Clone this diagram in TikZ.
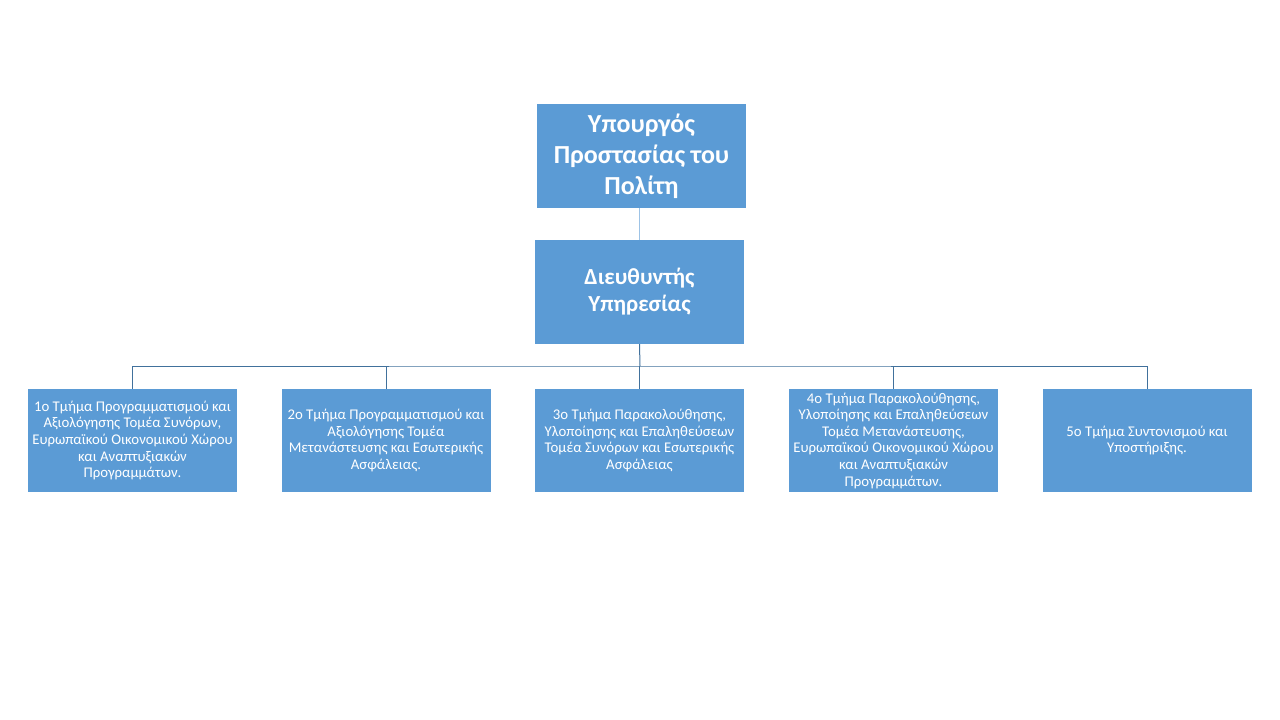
\documentclass[tikz,border=0pt]{standalone}
\usepackage{fontspec}
\setmainfont{Carlito}
\definecolor{boxblue}{HTML}{5B9BD5}
\definecolor{linedark}{HTML}{41719C}
\definecolor{linelight}{HTML}{9DC3E6}
\begin{document}
\begin{tikzpicture}[x=1pt,y=-1pt,
  box/.style={fill=boxblue,draw=none,text=white,align=center,inner sep=0pt,minimum width=209pt},
  topbox/.style={box,minimum height=104pt,font=\fontsize{26}{31}\selectfont\bfseries},
  midbox/.style={box,minimum height=104pt,font=\fontsize{23}{27}\selectfont\bfseries},
  unitbox/.style={box,minimum height=103pt,font=\fontsize{14.8}{16.6}\selectfont},
  conn/.style={draw=linedark,line width=1pt}]
\useasboundingbox (0,0) rectangle (1280,720);
\fill[white] (0,0) rectangle (1280,720);
\node[topbox] (min) at (641.5,156) {Υπουργός\\Προστασίας του\\Πολίτη};
\node[midbox] (dir) at (639.5,292) {Διευθυντής\\Υπηρεσίας};
\node[unitbox] (u1) at (132.5,440.5) {1ο Τμήμα Προγραμματισμού και\\Αξιολόγησης Τομέα Συνόρων,\\Ευρωπαϊκού Οικονομικού Χώρου\\και Αναπτυξιακών\\Προγραμμάτων.};
\node[unitbox] (u2) at (386,440.5) {2ο Τμήμα Προγραμματισμού και\\Αξιολόγησης Τομέα\\Μετανάστευσης και Εσωτερικής\\Ασφάλειας.};
\node[unitbox] (u3) at (639.5,440.5) {3ο Τμήμα Παρακολούθησης,\\Υλοποίησης και Επαληθεύσεων\\Τομέα Συνόρων και Εσωτερικής\\Ασφάλειας};
\node[unitbox] (u4) at (893.5,440.5) {4ο Τμήμα Παρακολούθησης,\\Υλοποίησης και Επαληθεύσεων\\Τομέα Μετανάστευσης,\\Ευρωπαϊκού Οικονομικού Χώρου\\και Αναπτυξιακών\\Προγραμμάτων.};
\node[unitbox] (u5) at (1147,440.5) {5ο Τμήμα Συντονισμού και\\Υποστήριξης.};
\coordinate (bus) at (640,366);
\draw[draw=linelight,line width=1.5pt] (min.south -| dir.north) -- (dir.north);
\draw[conn] (dir.south) -- (bus);
\draw[conn] (u1.north) |- (bus) -| (u5.north);
\draw[conn] (u2.north) -- (u2.north |- bus);
\draw[conn] (u3.north) -- (u3.north |- bus);
\draw[conn] (u4.north) -- (u4.north |- bus);
\end{tikzpicture}
\end{document}
